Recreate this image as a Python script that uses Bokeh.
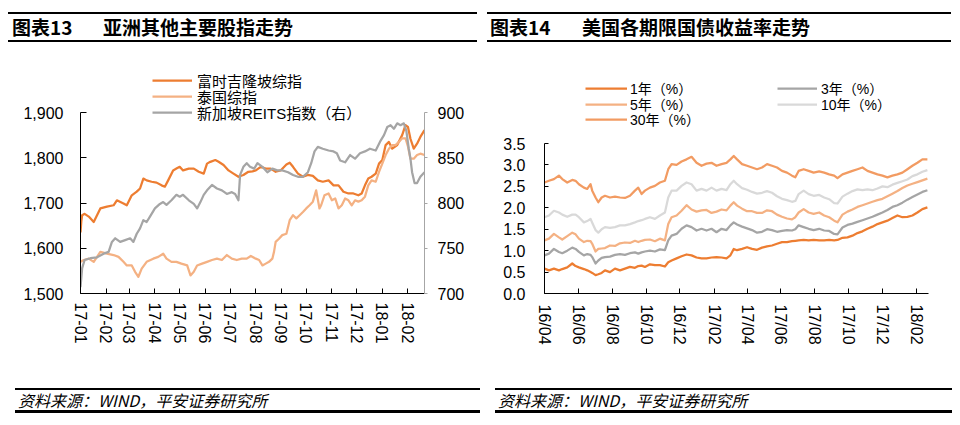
import pandas as pd
from bokeh.plotting import figure
from bokeh.models import (Range1d, LinearAxis, FixedTicker, NumeralTickFormatter,
                          DatetimeTickFormatter, Legend, LegendItem, Div, AllLabels)
from bokeh.layouts import row, column
from bokeh.embed import file_html
from bokeh.resources import INLINE

# ---------------- 图表13 data (day offsets from start13) ----------------
start13 = "2017-01-01"
end13_day = 416
ticks13 = ["2017-01-01", "2017-02-01", "2017-03-01", "2017-04-01", "2017-05-01",
           "2017-06-01", "2017-07-01", "2017-08-01", "2017-09-01", "2017-10-01",
           "2017-11-01", "2017-12-01", "2018-01-01", "2018-02-01"]

klci_days = [0, 1, 2, 5, 10, 16, 24, 32, 40, 44, 52, 56, 62, 68, 72, 76, 80, 86, 92, 98,
             102, 106, 112, 116, 120, 124, 131, 137, 143, 149, 153, 157, 163, 167, 173,
             179, 185, 191, 197, 203, 208, 212, 218, 224, 230, 236, 242, 249, 253, 257,
             263, 269, 275, 281, 287, 293, 300, 306, 312, 318, 324, 330, 336, 340, 344,
             348, 352, 357, 361, 365, 369, 373, 377, 383, 389, 393, 396, 399, 403, 407,
             411, 416]
klci_vals = [1635, 1660, 1673, 1676, 1670, 1658, 1688, 1692, 1695, 1706, 1699, 1695, 1717,
             1725, 1732, 1754, 1750, 1747, 1745, 1739, 1736, 1750, 1772, 1776, 1780, 1772,
             1776, 1776, 1769, 1765, 1787, 1791, 1795, 1791, 1784, 1772, 1765, 1758, 1762,
             1769, 1770, 1772, 1780, 1776, 1776, 1769, 1772, 1785, 1789, 1780, 1765, 1758,
             1762, 1760, 1750, 1747, 1750, 1739, 1739, 1725, 1721, 1721, 1717, 1721, 1739,
             1754, 1758, 1765, 1787, 1795, 1828, 1835, 1820, 1828, 1850, 1872, 1868, 1842,
             1820, 1831, 1846, 1861]

set_days = [0, 4, 10, 16, 24, 32, 40, 46, 52, 56, 62, 66, 70, 74, 80, 88, 94, 100, 104, 110,
            116, 122, 129, 133, 137, 141, 147, 153, 159, 165, 171, 177, 183, 189, 195, 201,
            206, 212, 216, 220, 224, 228, 232, 234, 236, 240, 244, 249, 253, 257, 261, 265,
            269, 273, 277, 281, 285, 289, 291, 295, 300, 304, 308, 312, 316, 320, 324, 328,
            332, 336, 340, 344, 348, 352, 357, 361, 365, 369, 373, 377, 381, 385, 389, 393,
            396, 399, 403, 407, 411, 416]
set_vals = [1570, 1574, 1577, 1570, 1592, 1588, 1585, 1581, 1570, 1562, 1562, 1548, 1537,
            1555, 1570, 1577, 1581, 1588, 1577, 1570, 1570, 1566, 1562, 1540, 1548, 1562,
            1566, 1570, 1574, 1577, 1574, 1585, 1577, 1574, 1577, 1577, 1583, 1577, 1574,
            1562, 1566, 1570, 1577, 1592, 1614, 1621, 1629, 1632, 1662, 1673, 1666, 1673,
            1680, 1688, 1695, 1703, 1728, 1688, 1695, 1717, 1721, 1706, 1710, 1688, 1695,
            1710, 1706, 1695, 1706, 1703, 1706, 1714, 1739, 1750, 1747, 1769, 1787, 1806,
            1820, 1828, 1828, 1835, 1843, 1843, 1825, 1798, 1798, 1806, 1809, 1806]

reit_days = [0, 2, 5, 12, 20, 28, 34, 38, 42, 48, 54, 60, 64, 68, 72, 76, 80, 84, 90, 96,
             100, 104, 110, 116, 120, 124, 131, 137, 141, 145, 149, 153, 159, 165, 171, 177,
             183, 187, 191, 193, 197, 201, 205, 210, 214, 220, 226, 232, 238, 244, 251, 257,
             263, 269, 275, 279, 283, 287, 293, 300, 306, 310, 314, 320, 326, 332, 338, 344,
             350, 357, 363, 367, 371, 375, 379, 383, 387, 391, 394, 397, 399, 401, 404, 407,
             411, 416]
reit_vals = [707, 728, 737, 739, 740, 744, 746, 757, 761, 757, 759, 761, 757, 766, 772, 781,
             779, 785, 794, 799, 801, 798, 803, 809, 807, 809, 803, 799, 794, 801, 809, 814,
             820, 816, 814, 810, 812, 810, 803, 831, 840, 844, 840, 838, 844, 840, 834, 838,
             836, 836, 834, 831, 829, 829, 834, 844, 857, 862, 860, 858, 857, 855, 847, 845,
             853, 849, 855, 857, 860, 858, 869, 875, 884, 886, 882, 888, 886, 888, 880, 860,
             849, 834, 822, 822, 829, 834]

# ---------------- 图表14 data (day offsets from start14) ----------------
start14 = "2016-04-01"
end14_day = 692
ticks14 = ["2016-04-01", "2016-06-01", "2016-08-01", "2016-10-01", "2016-12-01",
           "2017-02-01", "2017-04-01", "2017-06-01", "2017-08-01", "2017-10-01",
           "2017-12-01", "2018-02-01"]

ust_days = [0, 8, 17, 26, 32, 41, 50, 56, 62, 71, 77, 83, 86, 92, 97, 103, 109, 118, 127,
            136, 145, 154, 163, 169, 175, 181, 190, 199, 208, 217, 223, 229, 238, 247, 256,
            265, 274, 283, 292, 301, 310, 319, 328,
            335, 341, 347, 356, 365, 374, 383, 392, 401, 410, 419, 428, 437, 446, 452, 458,
            467, 476, 485, 495, 504, 513, 522, 528, 537, 546, 555, 564, 573, 582, 591, 600,
            609, 618, 627, 636, 645, 654, 663, 672, 681, 690]
ust_1y = [0.58, 0.54, 0.58, 0.54, 0.57, 0.61, 0.70, 0.64, 0.61, 0.57, 0.54, 0.50, 0.48, 0.43,
          0.45, 0.48, 0.54, 0.50, 0.58, 0.54, 0.58, 0.62, 0.60, 0.64, 0.65, 0.62, 0.68, 0.66,
          0.66, 0.63, 0.73, 0.77, 0.82, 0.87, 0.91, 0.89, 0.84, 0.82, 0.82, 0.84, 0.85, 0.84,
          0.82,
          0.89, 1.04, 1.01, 1.04, 1.08, 1.04, 1.02, 1.07, 1.10, 1.12, 1.16, 1.20, 1.20, 1.22,
          1.23, 1.24, 1.25, 1.24, 1.25, 1.24, 1.24, 1.25, 1.24, 1.25, 1.30, 1.31, 1.35, 1.41,
          1.45, 1.51, 1.56, 1.62, 1.66, 1.70, 1.76, 1.82, 1.78, 1.79, 1.82, 1.89, 1.97, 2.01]
ust_3y = [0.89, 0.93, 1.04, 0.97, 0.94, 1.00, 1.07, 1.04, 0.97, 0.89, 0.92, 0.90, 0.85, 0.70,
          0.77, 0.83, 0.85, 0.86, 0.90, 0.92, 0.90, 0.94, 0.96, 0.93, 0.96, 0.98, 1.00, 0.98,
          1.03, 1.01, 1.24, 1.35, 1.39, 1.51, 1.59, 1.55, 1.47, 1.51, 1.47, 1.51, 1.43, 1.51,
          1.48,
          1.59, 1.66, 1.61, 1.56, 1.52, 1.48, 1.42, 1.44, 1.50, 1.48, 1.44, 1.46, 1.48, 1.47,
          1.50, 1.59, 1.55, 1.51, 1.48, 1.51, 1.47, 1.46, 1.39, 1.38, 1.54, 1.60, 1.63, 1.67,
          1.71, 1.75, 1.79, 1.84, 1.89, 1.95, 2.02, 2.06, 2.12, 2.19, 2.25, 2.31, 2.37, 2.41]
ust_5y = [1.24, 1.28, 1.39, 1.31, 1.26, 1.34, 1.42, 1.38, 1.28, 1.20, 1.23, 1.22, 1.16, 0.98,
          1.04, 1.05, 1.06, 1.12, 1.11, 1.17, 1.19, 1.18, 1.23, 1.20, 1.23, 1.25, 1.26, 1.22,
          1.28, 1.24, 1.62, 1.78, 1.82, 1.93, 2.06, 1.96, 1.91, 1.94, 1.95, 1.88, 1.91, 1.96,
          1.94,
          2.05, 2.13, 2.05, 1.98, 1.92, 1.92, 1.88, 1.88, 1.94, 1.92, 1.84, 1.79, 1.75, 1.73,
          1.78, 1.89, 1.97, 1.89, 1.86, 1.89, 1.82, 1.78, 1.70, 1.66, 1.84, 1.91, 1.96, 2.02,
          2.06, 2.10, 2.14, 2.18, 2.21, 2.27, 2.33, 2.39, 2.46, 2.52, 2.56, 2.60, 2.64, 2.68]
ust_10y = [1.78, 1.82, 1.93, 1.89, 1.84, 1.79, 1.84, 1.84, 1.78, 1.66, 1.69, 1.74, 1.65, 1.48,
           1.42, 1.50, 1.55, 1.53, 1.55, 1.59, 1.59, 1.62, 1.66, 1.69, 1.71, 1.74, 1.78, 1.74,
           1.82, 1.89, 2.24, 2.40, 2.40, 2.51, 2.59, 2.55, 2.40, 2.44, 2.40, 2.47, 2.40, 2.44,
           2.41,
           2.55, 2.63, 2.55, 2.46, 2.42, 2.37, 2.33, 2.35, 2.39, 2.35, 2.27, 2.21, 2.18, 2.14,
           2.16, 2.32, 2.40, 2.32, 2.28, 2.30, 2.24, 2.20, 2.11, 2.10, 2.26, 2.33, 2.39, 2.43,
           2.41, 2.43, 2.41, 2.45, 2.50, 2.48, 2.54, 2.58, 2.62, 2.66, 2.74, 2.78, 2.84, 2.88]
ust_30y = [2.59, 2.63, 2.67, 2.75, 2.67, 2.59, 2.65, 2.63, 2.55, 2.47, 2.44, 2.55, 2.40, 2.24,
           2.13, 2.24, 2.28, 2.24, 2.26, 2.24, 2.23, 2.28, 2.40, 2.47, 2.32, 2.40, 2.47, 2.51,
           2.59, 2.63, 2.90, 3.02, 3.00, 3.08, 3.13, 3.19, 3.05, 2.98, 3.03, 3.05, 2.98, 3.02,
           3.05,
           3.13, 3.21, 3.13, 3.02, 2.98, 2.94, 2.90, 2.94, 3.02, 2.98, 2.94, 2.86, 2.82, 2.75,
           2.71, 2.86, 2.90, 2.86, 2.82, 2.85, 2.82, 2.78, 2.75, 2.69, 2.78, 2.82, 2.86, 2.90,
           2.94, 2.86, 2.82, 2.78, 2.75, 2.71, 2.75, 2.78, 2.82, 2.90, 2.98, 3.05, 3.13, 3.13]

# ---------------- styles / layout constants (pixels) ----------------
LAT = "'Liberation Sans', 'Noto Sans CJK SC'"
CJK = "'Noto Sans CJK SC'"
C_ORANGE = "#ED7D31"
C_PEACH = "#F4B183"
C_GRAY = "#A5A5A5"
C_LGRAY = "#D9D9D9"
C_MID = "#F29B62"
LW = 2.25

FIG_W, FIG_H = 480, 345
FIG_TOP = 42            # page y of the figures' top edge
FRAME_BOTTOM = 293      # page y of the x axes
MB_BOTTOM = FIG_TOP + FIG_H - FRAME_BOTTOM
ITEM_H = 24             # legend row box height
# chart 13: axis from y=293 up to y=112; frame reaches up to y=60 to host the legend
C13_AXIS_TOP, C13_FRAME_TOP = 112, 60
# chart 14: axis from y=293 up to y=143; frame reaches up to y=70 to host the legend
C14_AXIS_TOP, C14_FRAME_TOP = 143, 70


def dates(start, days):
    return pd.Timestamp(start) + pd.to_timedelta(days, unit="D")


def ms(s):
    return pd.Timestamp(s).value / 1e6


def extend(lo, hi, axis_top, frame_top):
    return hi + (hi - lo) * (axis_top - frame_top) / (FRAME_BOTTOM - axis_top)


def style_axis(ax, color="#000000", tick_in=0, tick_out=0, standoff=8):
    ax.axis_line_color = color
    ax.axis_line_width = 1
    ax.major_tick_line_color = color
    ax.major_tick_in = tick_in
    ax.major_tick_out = tick_out
    ax.minor_tick_line_color = None
    ax.major_label_text_font = LAT
    ax.major_label_text_font_size = "16px"
    ax.major_label_text_color = "#000000"
    ax.major_label_standoff = standoff


def base_fig(x0, x1, y0, y1, mbl, mbr, frame_top):
    p = figure(width=FIG_W, height=FIG_H, x_axis_type="datetime",
               x_range=Range1d(x0, x1), y_range=Range1d(y0, y1),
               output_backend="svg", toolbar_location=None, title=None,
               min_border_left=mbl, min_border_right=mbr,
               min_border_top=frame_top - FIG_TOP, min_border_bottom=MB_BOTTOM)
    p.outline_line_color = None
    p.xgrid.visible = False
    p.ygrid.visible = False
    p.background_fill_color = "white"
    p.border_fill_color = "white"
    return p


def add_legend_row(p, label, renderer, x_off, row_y, gw, standoff, fs):
    """One legend row; row_y is the page y of the row's centre."""
    leg = Legend(items=[LegendItem(label=label, renderers=[renderer])],
                 location=(x_off, FRAME_BOTTOM - row_y - ITEM_H / 2),
                 orientation="vertical",
                 glyph_width=gw, glyph_height=ITEM_H, label_height=ITEM_H, spacing=0,
                 padding=0, margin=0, label_standoff=standoff,
                 border_line_color=None, background_fill_alpha=0,
                 label_text_font=LAT, label_text_font_size=fs,
                 label_text_color="#000000")
    p.add_layout(leg)


# ---------------- 图表13 ----------------
y13_lo, y13_hi = 1500, 1900
r13_lo, r13_hi = 700, 900
p1 = base_fig(pd.Timestamp(start13), pd.Timestamp(start13) + pd.Timedelta(days=end13_day),
              y13_lo, extend(y13_lo, y13_hi, C13_AXIS_TOP, C13_FRAME_TOP), 80, 56,
              C13_FRAME_TOP)
p1.extra_y_ranges = {"reit": Range1d(r13_lo, extend(r13_lo, r13_hi, C13_AXIS_TOP,
                                                      C13_FRAME_TOP))}
r_klci = p1.line(dates(start13, klci_days), klci_vals, line_color=C_ORANGE, line_width=LW,
                 line_join="round")
r_set = p1.line(dates(start13, set_days), set_vals, line_color=C_PEACH, line_width=LW,
                line_join="round")
r_reit = p1.line(dates(start13, reit_days), reit_vals, line_color=C_GRAY, line_width=LW,
                 line_join="round", y_range_name="reit")

p1.yaxis.ticker = FixedTicker(ticks=[1500, 1600, 1700, 1800, 1900])
p1.yaxis.formatter = NumeralTickFormatter(format="0,0")
p1.yaxis.bounds = (y13_lo, y13_hi)
style_axis(p1.yaxis[0], tick_in=6, standoff=17)

ax_r = LinearAxis(y_range_name="reit", ticker=FixedTicker(ticks=[700, 750, 800, 850, 900]),
                  bounds=(r13_lo, r13_hi))
style_axis(ax_r, color="#A6A6A6", tick_out=3, standoff=10)
ax_r.major_label_text_color = "#000000"
p1.add_layout(ax_r, "right")

p1.xaxis.ticker = FixedTicker(ticks=[ms(t) for t in ticks13])
fmt13 = "%y-%m"
p1.xaxis.formatter = DatetimeTickFormatter(days=fmt13, months=fmt13, years=fmt13)
p1.xaxis.major_label_orientation = "vertical"
p1.xaxis.major_label_policy = AllLabels()
style_axis(p1.xaxis[0], tick_in=5, standoff=9)

add_legend_row(p1, "富时吉隆坡综指", r_klci, 72, 80, 40, 5, "15px")
add_legend_row(p1, "泰国综指", r_set, 72, 96, 40, 5, "15px")
add_legend_row(p1, "新加坡REITS指数（右）", r_reit, 72, 112, 40, 5, "15px")

# ---------------- 图表14 ----------------
y14_lo, y14_hi = 0, 3.5
p2 = base_fig(pd.Timestamp(start14), pd.Timestamp(start14) + pd.Timedelta(days=end14_day),
              y14_lo, extend(y14_lo, y14_hi, C14_AXIS_TOP, C14_FRAME_TOP), 64, 32,
              C14_FRAME_TOP)
xs14 = dates(start14, ust_days)
r1 = p2.line(xs14, ust_1y, line_color=C_ORANGE, line_width=LW, line_join="round")
r3 = p2.line(xs14, ust_3y, line_color=C_GRAY, line_width=LW, line_join="round")
r5 = p2.line(xs14, ust_5y, line_color=C_PEACH, line_width=LW, line_join="round")
r10 = p2.line(xs14, ust_10y, line_color=C_LGRAY, line_width=LW, line_join="round")
r30 = p2.line(xs14, ust_30y, line_color=C_MID, line_width=LW, line_join="round")

p2.yaxis.ticker = FixedTicker(ticks=[0, 0.5, 1.0, 1.5, 2.0, 2.5, 3.0, 3.5])
p2.yaxis.formatter = NumeralTickFormatter(format="0.0")
p2.yaxis.bounds = (y14_lo, y14_hi)
style_axis(p2.yaxis[0], tick_in=4, standoff=19)

p2.xaxis.ticker = FixedTicker(ticks=[ms(t) for t in ticks14])
fmt14 = "%y/%m"
p2.xaxis.formatter = DatetimeTickFormatter(days=fmt14, months=fmt14, years=fmt14)
p2.xaxis.major_label_orientation = "vertical"
p2.xaxis.major_label_policy = AllLabels()
style_axis(p2.xaxis[0], tick_in=5, standoff=11)

add_legend_row(p2, "1年（%）", r1, 41, 88, 42, 3, "14px")
add_legend_row(p2, "5年（%）", r5, 41, 103.5, 42, 3, "14px")
add_legend_row(p2, "30年（%）", r30, 41, 119, 42, 3, "14px")
add_legend_row(p2, "3年（%）", r3, 233, 88, 40, 4, "14px")
add_legend_row(p2, "10年（%）", r10, 233, 103.5, 40, 4, "14px")


# ---------------- titles & footers ----------------
def title_div(num, text, pl_outer, w, first_w, pl):
    html = (f'<div style="box-sizing:content-box;margin:0;padding:12px 0 0 {pl_outer}px;height:30px;">'
            f'<div style="box-sizing:border-box;margin:0;width:{w}px;height:30px;line-height:26px;'
            f'border-top:2px solid #000;border-bottom:2px solid #000;white-space:nowrap;'
            f'font-family:{CJK};font-weight:bold;font-size:19px;color:#000;">'
            f'<span style="box-sizing:content-box;display:inline-block;width:{first_w}px;'
            f'padding-left:{pl}px">{num}</span><span>{text}</span></div></div>')
    return Div(text=html, width=FIG_W, height=FIG_TOP, margin=(0, 0, 0, 0))


def foot_div(pl_outer, w):
    html = (f'<div style="box-sizing:content-box;margin:0;padding:1px 0 0 {pl_outer}px;height:25px;">'
            f'<div style="box-sizing:border-box;margin:0;width:{w}px;height:25px;line-height:20px;'
            f'border-top:2px solid #000;border-bottom:3px solid #000;white-space:nowrap;'
            f'font-family:{CJK};font-style:italic;font-size:16px;color:#000;">'
            f'<span style="padding-left:3px">资料来源：WIND，平安证券研究所</span></div></div>')
    return Div(text=html, width=FIG_W, height=26, margin=(0, 0, 0, 0))


col1 = column(title_div("图表13", "亚洲其他主要股指走势", 8, 469, 91, 4), p1,
              foot_div(15, 465), spacing=0)
col2 = column(title_div("图表14", "美国各期限国债收益率走势", 7, 464, 92, 3), p2,
              foot_div(15, 457), spacing=0)
layout = row(col1, col2, spacing=0)

open("out.html", "w").write(file_html(layout, INLINE))
